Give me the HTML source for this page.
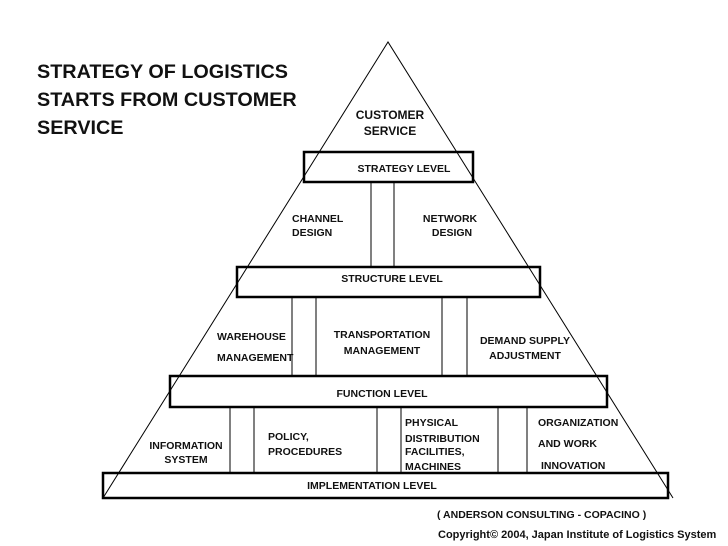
<!DOCTYPE html>
<html><head><meta charset="utf-8"><style>
html,body{margin:0;padding:0;background:#fff;}
svg{display:block;}
text{font-family:"Liberation Sans",Arial,sans-serif;font-weight:bold;fill:#111;}
.s{font-size:10.5px;}
</style></head><body>
<svg width="728" height="546" viewBox="0 0 728 546" xmlns="http://www.w3.org/2000/svg">
<g fill="none" stroke="#000" stroke-width="1">
<polyline points="103,498 388,42 673,498"/>
<line x1="371" y1="182" x2="371" y2="267"/>
<line x1="394" y1="182" x2="394" y2="267"/>
<line x1="292" y1="297" x2="292" y2="376"/>
<line x1="316" y1="297" x2="316" y2="376"/>
<line x1="442" y1="297" x2="442" y2="376"/>
<line x1="467" y1="297" x2="467" y2="376"/>
<line x1="230" y1="407" x2="230" y2="473"/>
<line x1="254" y1="407" x2="254" y2="473"/>
<line x1="377" y1="407" x2="377" y2="473"/>
<line x1="401" y1="407" x2="401" y2="473"/>
<line x1="498" y1="407" x2="498" y2="473"/>
<line x1="527" y1="407" x2="527" y2="473"/>
</g>
<g fill="none" stroke="#000" stroke-width="2.5">
<rect x="304" y="152" width="169" height="30"/>
<rect x="237" y="267" width="303" height="30"/>
<rect x="170" y="376" width="437" height="31"/>
<rect x="103" y="473" width="565" height="25"/>
</g>
<text x="37" y="78" font-size="19.8">STRATEGY OF LOGISTICS</text>
<text x="37" y="106" font-size="19.8">STARTS FROM CUSTOMER</text>
<text x="37" y="134" font-size="19.8">SERVICE</text>
<g class="s" text-anchor="middle">
<text x="390" y="119" style="font-size:12px">CUSTOMER</text>
<text x="390" y="135" style="font-size:12px">SERVICE</text>
</g>
<g class="s">
<text x="404" y="172" text-anchor="middle">STRATEGY  LEVEL</text>
<text x="292" y="222">CHANNEL</text>
<text x="292" y="236">DESIGN</text>
<text x="450" y="222" text-anchor="middle">NETWORK</text>
<text x="452" y="236" text-anchor="middle">DESIGN</text>
<text x="392" y="282" text-anchor="middle">STRUCTURE  LEVEL</text>
<text x="217" y="340">WAREHOUSE</text>
<text x="217" y="361">MANAGEMENT</text>
<text x="382" y="338" text-anchor="middle">TRANSPORTATION</text>
<text x="382" y="354" text-anchor="middle">MANAGEMENT</text>
<text x="525" y="344" text-anchor="middle">DEMAND SUPPLY</text>
<text x="525" y="359" text-anchor="middle">ADJUSTMENT</text>
<text x="382" y="397" text-anchor="middle">FUNCTION  LEVEL</text>
<text x="186" y="449" text-anchor="middle">INFORMATION</text>
<text x="186" y="463" text-anchor="middle">SYSTEM</text>
<text x="268" y="440">POLICY,</text>
<text x="268" y="455">PROCEDURES</text>
<text x="405" y="426">PHYSICAL</text>
<text x="405" y="442">DISTRIBUTION</text>
<text x="405" y="455">FACILITIES,</text>
<text x="405" y="470">MACHINES</text>
<text x="538" y="426">ORGANIZATION</text>
<text x="538" y="447">AND WORK</text>
<text x="541" y="469">INNOVATION</text>
<text x="372" y="489" text-anchor="middle">IMPLEMENTATION  LEVEL</text>
<text x="437" y="518">( ANDERSON CONSULTING - COPACINO )</text>
<text x="438" y="538" style="font-size:11px">Copyright© 2004, Japan Institute of Logistics System</text>
</g>
</svg>
</body></html>
